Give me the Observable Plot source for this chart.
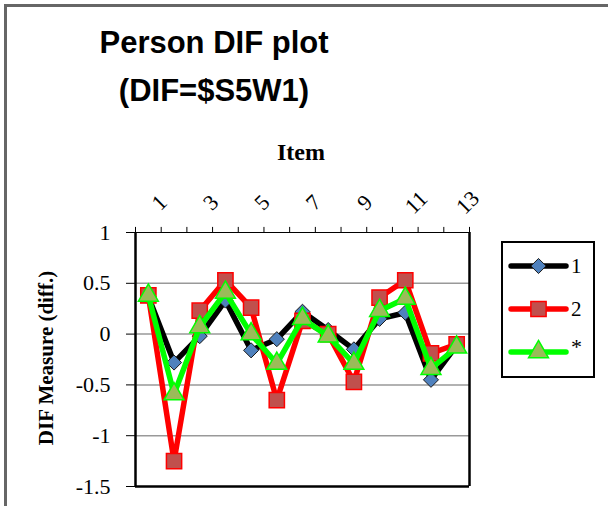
<!DOCTYPE html>
<html>
<head>
<meta charset="utf-8">
<script src="https://cdn.jsdelivr.net/npm/d3@7"></script>
<script src="https://cdn.jsdelivr.net/npm/@observablehq/plot@0.6"></script>
<style>
  body { margin: 0; background: #fff; }
  #wrap { position: relative; width: 608px; height: 506px; overflow: hidden; background: #fff; }
  #border { position: absolute; left: 4px; top: 4px; width: 700px; height: 700px;
            border-left: 3px solid #666; border-top: 3px solid #666; }
  .title { position: absolute; left: 214px; transform: translateX(-50%); white-space: nowrap;
           font-family: "Liberation Sans", Arial, sans-serif; font-weight: bold; font-size: 31px; color: #000; }
  #xlab { position: absolute; left: 301px; top: 139px; transform: translateX(-50%);
          font-family: "Liberation Serif", serif; font-weight: bold; font-size: 24px; }
  #ylab { position: absolute; left: 46px; top: 358px; transform: translate(-50%, -50%) rotate(-90deg);
          white-space: nowrap; font-family: "Liberation Serif", serif; font-weight: bold; font-size: 21px; }
  #chart { position: absolute; left: 0; top: 0; }
  #legend { position: absolute; left: 0; top: 0; }
</style>
</head>
<body>
<div id="wrap">
  <div id="border"></div>
  <div class="title" style="top:25px">Person DIF plot</div>
  <div class="title" style="top:73px">(DIF=$S5W1)</div>
  <div id="xlab">Item</div>
  <div id="ylab">DIF Measure (diff.)</div>
  <div id="chart"></div>
  <svg id="legend" width="608" height="506"></svg>
</div>
<script>
const items = [1, 2, 3, 4, 5, 6, 7, 8, 9, 10, 11, 12, 13];
const series1 = [0.37, -0.28, -0.02, 0.33, -0.16, -0.05, 0.22, 0.04, -0.15, 0.15, 0.21, -0.45, -0.11];
const series2 = [0.38, -1.25, 0.23, 0.53, 0.26, -0.65, 0.13, 0.00, -0.47, 0.36, 0.53, -0.19, -0.10];
const seriesStar = [0.38, -0.59, 0.07, 0.41, 0.00, -0.29, 0.15, -0.02, -0.29, 0.23, 0.35, -0.34, -0.13];
const seriesNames = ["1", "2", "*"];
const xTickLabels = ["1", "3", "5", "7", "9", "11", "13"];
const yTicks = [1, 0.5, 0, -0.5, -1, -1.5];

const styles = [
  { line: "#000000", fill: "#4F81BD", stroke: "#1a1a1a", symbol: "diamond2", r: 6.8, sw: 1 },
  { line: "#FF0000", fill: "#C0504D", stroke: "#FF0000", symbol: "square", r: 8.6, sw: 1.5 },
  { line: "#00FF00", fill: "#9BBB59", stroke: "#00FF00", symbol: "triangle", r: 7.4, sw: 1.5 }
];
const allSeries = [series1, series2, seriesStar];
const rows = allSeries.map(vals => items.map((it, i) => ({ item: it, value: vals[i] })));
const boundaries = d3.range(0.5, 14, 1);

const marks = [
  Plot.gridY([0.5, 0, -0.5, -1], { stroke: "#999", strokeOpacity: 1, strokeWidth: 1.5 }),
  Plot.ruleY([1], { stroke: "#000", strokeWidth: 1 }),
  Plot.ruleX(boundaries, { x: d => d, y1: 1, y2: 1.05, stroke: "#000", strokeWidth: 1 }),
  Plot.axisY({ ticks: yTicks, tickSize: 9, tickPadding: 16, tickFormat: d => String(d),
               fontSize: 22, fontFamily: "Liberation Serif", stroke: "#000", label: null }),
  Plot.text(xTickLabels, { x: d => +d, frameAnchor: "top", text: d => d, rotate: -45,
                           dx: 5, dy: -36, fontSize: 22, fontFamily: "Liberation Serif" }),
  Plot.ruleX([0.5], { stroke: "#000", strokeWidth: 2.5 }),
  Plot.ruleX([13.5], { stroke: "#000", strokeWidth: 2.5 }),
  Plot.ruleY([-1.5], { stroke: "#000", strokeWidth: 2.5 })
];
rows.forEach((data, k) => {
  const s = styles[k];
  marks.push(Plot.line(data, { x: "item", y: "value", stroke: s.line, strokeWidth: 5.5,
                               strokeLinejoin: "round", strokeLinecap: "round" }));
  marks.push(Plot.dot(data, { x: "item", y: "value", symbol: () => s.symbol, r: s.r,
                              fill: s.fill, stroke: s.stroke, strokeWidth: s.sw }));
});

const chart = Plot.plot({
  width: 608, height: 506,
  marginLeft: 135, marginRight: 139, marginTop: 232, marginBottom: 20,
  x: { type: "linear", domain: [0.5, 13.5], axis: null },
  y: { domain: [-1.5, 1], axis: null },
  symbol: { type: "identity" },
  style: { fontFamily: "Liberation Serif", fontSize: "20px", background: "transparent", overflow: "visible" },
  marks
});
document.getElementById("chart").append(chart);

// legend
const lg = d3.select("#legend");
lg.append("rect").attr("x", 502).attr("y", 242).attr("width", 92).attr("height", 135)
  .attr("fill", "none").attr("stroke", "#000").attr("stroke-width", 2);
const symMap = { diamond2: d3.symbolDiamond2, square: d3.symbolSquare, triangle: d3.symbolTriangle };
const rowY = [266, 309, 352];
seriesNames.forEach((name, k) => {
  const s = styles[k];
  const y = rowY[k];
  lg.append("line").attr("x1", 511).attr("x2", 566).attr("y1", y).attr("y2", y)
    .attr("stroke", s.line).attr("stroke-width", 5.5).attr("stroke-linecap", "round");
  lg.append("path").attr("transform", `translate(538.5,${y})`)
    .attr("d", d3.symbol(symMap[s.symbol], Math.PI * s.r * s.r)())
    .attr("fill", s.fill).attr("stroke", s.stroke).attr("stroke-width", s.sw);
  lg.append("text").attr("x", 571).attr("y", name === "*" ? y + 2 : y + 7)
    .attr("font-family", "Liberation Serif").attr("font-size", name === "*" ? 22 : 21)
    .text(name);
});
</script>
</body>
</html>
